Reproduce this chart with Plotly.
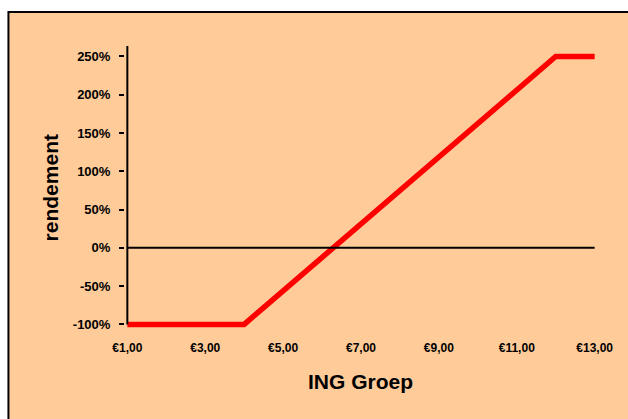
import plotly.graph_objects as go

# ---- data ----
koers = [1, 2, 3, 4, 5, 6, 7, 8, 9, 10, 11, 12, 13]
rendement = [-100, -100, -100, -100, -56.25, -12.5, 31.25, 75, 118.75, 162.5, 206.25, 250, 250]
x_tickvals = [1, 3, 5, 7, 9, 11, 13]
x_ticktext = ["€1,00", "€3,00", "€5,00", "€7,00", "€9,00", "€11,00", "€13,00"]
y_tickvals = [-100, -50, 0, 50, 100, 150, 200, 250]
y_ticktext = ["-100%", "-50%", "0%", "50%", "100%", "150%", "200%", "250%"]

W, H = 628, 419
# plot area in pixels
L, R, T, B = 124.7, 597.3, 46, 329
XR = [0.94, 13.06]
YR = [-106, 263.7]

def px_x(p):
    return (p - L) / (R - L)

def px_y(p):
    return (B - p) / (B - T)

font = "Liberation Sans, Arial, sans-serif"

fig = go.Figure()
fig.add_trace(go.Scatter(
    x=koers, y=rendement, mode="lines",
    line=dict(color="#FF0000", width=5.5),
    hoverinfo="skip", showlegend=False,
))

shapes = [
    # chart area background with border
    dict(type="rect", xref="paper", yref="paper",
         x0=px_x(8), x1=px_x(700), y0=px_y(500), y1=px_y(12),
         fillcolor="#FFCC99", line=dict(color="black", width=2), layer="below"),
    # y axis line
    dict(type="line", xref="x", yref="y", x0=1, x1=1, y0=-100, y1=YR[1],
         line=dict(color="black", width=2)),
    # horizontal axis at zero
    dict(type="line", xref="x", yref="y", x0=1, x1=13, y0=0, y1=0,
         line=dict(color="black", width=2)),
]

fig.update_layout(
    width=W, height=H,
    margin=dict(l=L, r=W - R, t=T, b=H - B, pad=0),
    paper_bgcolor="white", plot_bgcolor="rgba(0,0,0,0)",
    shapes=shapes,
    xaxis=dict(range=XR, showgrid=False, zeroline=False, showline=False,
               tickvals=x_tickvals, ticktext=x_ticktext, ticks="",
               tickfont=dict(family=font, size=12, color="black", weight="bold"),
               ticklabelstandoff=10),
    yaxis=dict(range=YR, showgrid=False, zeroline=False, showline=False,
               tickvals=y_tickvals, ticktext=y_ticktext,
               ticks="outside", ticklen=5, tickwidth=2, tickcolor="black",
               tickfont=dict(family=font, size=13, color="black", weight="bold"),
               ticklabelstandoff=6),
    annotations=[
        dict(text="<b>rendement</b>", xref="paper", yref="paper",
             x=px_x(50), y=px_y(188), textangle=-90, showarrow=False,
             font=dict(family=font, size=21, color="black"),
             xanchor="center", yanchor="middle"),
        dict(text="<b>ING Groep</b>", xref="paper", yref="paper",
             x=px_x(360), y=px_y(381), showarrow=False,
             font=dict(family=font, size=21, color="black"),
             xanchor="center", yanchor="middle"),
    ],
)

fig.write_html("out.html",
               config={"displayModeBar": False, "staticPlot": True},
               post_script="document.body.style.margin='0';document.body.style.overflow='hidden';")
